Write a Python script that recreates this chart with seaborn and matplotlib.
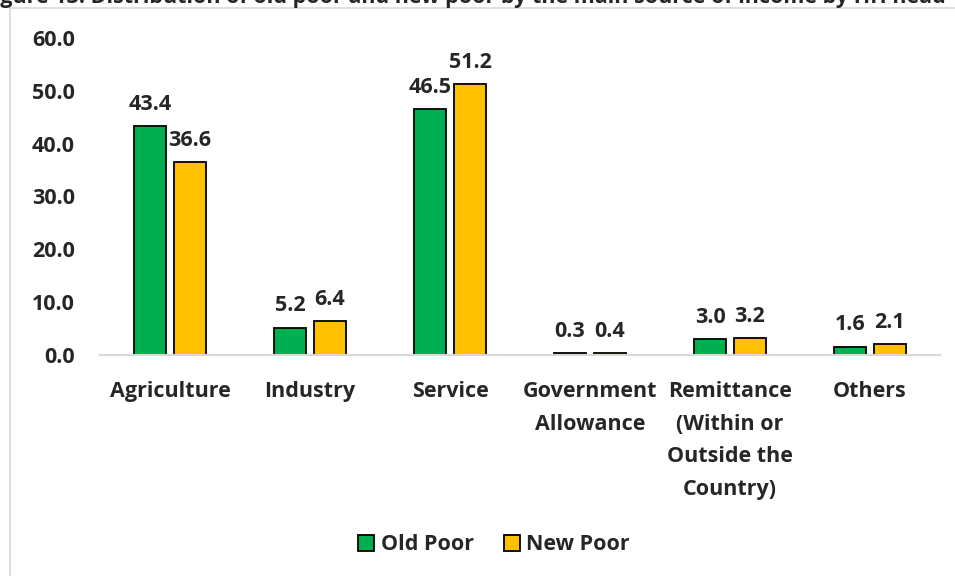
import matplotlib
matplotlib.use("Agg")
import matplotlib.pyplot as plt
from matplotlib.patches import Rectangle
import pandas as pd
import seaborn as sns

# data
categories = ["Agriculture", "Industry", "Service", "Government\nAllowance",
              "Remittance\n(Within or\nOutside the\nCountry)", "Others"]
old_poor = [43.4, 5.2, 46.5, 0.3, 3.0, 1.6]
new_poor = [36.6, 6.4, 51.2, 0.4, 3.2, 2.1]
series = ["Old Poor", "New Poor"]
yticks = [0, 10, 20, 30, 40, 50, 60]

df = pd.DataFrame({
    "cat": categories * 2,
    "val": old_poor + new_poor,
    "grp": [series[0]] * len(categories) + [series[1]] * len(categories),
})

sns.set_style("white")
plt.rcParams["font.family"] = ["Open Sans", "DejaVu Sans"]
plt.rcParams["font.weight"] = "bold"
fs = 15.5

fig = plt.figure(figsize=(9.55, 5.76), dpi=100)
ax = fig.add_axes([100 / 955, (576 - 355) / 576, 840 / 955, 317 / 576])

sns.barplot(data=df, x="cat", y="val", hue="grp", order=categories,
            palette=["#00B050", "#FFC000"], saturation=1, width=0.57, gap=0.2,
            edgecolor="black", linewidth=1.3, ax=ax)

# value labels
for cont in ax.containers:
    ax.bar_label(cont, fmt="%.1f", padding=8, fontsize=fs, fontweight="bold")

ax.set_xlim(-0.5, 5.5)
ax.set_ylim(0, 60)
ax.set_yticks(yticks)
ax.set_yticklabels([f"{v:.1f}" for v in yticks], fontsize=fs, fontweight="bold")
ax.set_xticks(range(len(categories)))
ax.set_xticklabels(categories, fontsize=fs, fontweight="bold", linespacing=1.72)
ax.tick_params(axis="both", length=0)
ax.tick_params(axis="x", pad=19)
ax.tick_params(axis="y", pad=18)
ax.set_xlabel("")
ax.set_ylabel("")
for s in ["top", "right", "left"]:
    ax.spines[s].set_visible(False)
ax.spines["bottom"].set_color("#D9D9D9")
ax.spines["bottom"].set_linewidth(1.5)

leg = ax.legend(loc="center", bbox_to_anchor=(494 / 955, 1 - 545 / 576),
                bbox_transform=fig.transFigure, ncol=2, frameon=False,
                fontsize=fs, handlelength=0.75, handleheight=0.75,
                handletextpad=0.3, columnspacing=1.4)
for t in leg.get_texts():
    t.set_fontweight("bold")

# outer chart frame and clipped figure caption
fig.patches.append(Rectangle((10 / 955, -0.1), 1.0, 1.1 - 8 / 576,
                             transform=fig.transFigure, fill=False,
                             edgecolor="#D9D9D9", linewidth=1.2))
fig.text(-18 / 955, 1 - 3 / 576,
         "Figure 13: Distribution of old poor and new poor by the main source of income by HH head",
         fontsize=fs, fontweight="bold", va="baseline", ha="left")

fig.savefig("out.png", dpi=100)
